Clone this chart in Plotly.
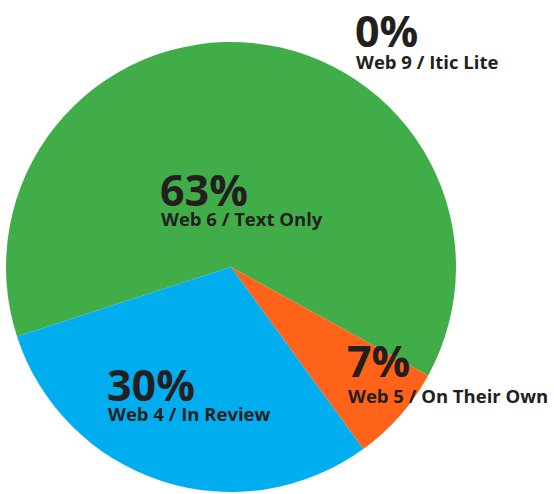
import plotly.graph_objects as go

labels = ["Web 6 / Text Only", "Web 5 / On Their Own", "Web 4 / In Review", "Web 9 / Itic Lite"]
values = [63, 7, 30, 0]
pct_text = ["63%", "7%", "30%", "0%"]
colors = ["#41ad49", "#fe6319", "#00aeef", "#41ad49"]

W, H = 554, 494
# label positions in pixels: (left x, centre y of percent line, centre y of name line)
label_pos = [(158, 189, 218), (345, 360, 395), (105, 384, 413), (353, 30, 61)]

fig = go.Figure(go.Pie(
    labels=labels, values=values, sort=False, direction="clockwise",
    rotation=-108, textinfo="none", hoverinfo="label+percent",
    marker=dict(colors=colors, line=dict(width=0)),
    domain=dict(x=[6 / W, 456 / W], y=[2 / H, 452 / H]),
    showlegend=False,
))

ann = []
for (px, py, ly), p, lab in zip(label_pos, pct_text, labels):
    ann.append(dict(x=px / W, y=1 - py / H, xref="paper", yref="paper", xanchor="left", yanchor="middle",
                    text=p, showarrow=False,
                    font=dict(family="Open Sans", size=43, color="#231f20", weight="bold")))
    ann.append(dict(x=(px + 1) / W, y=1 - ly / H, xref="paper", yref="paper", xanchor="left", yanchor="middle",
                    text=lab, showarrow=False,
                    font=dict(family="Open Sans", size=18.5, color="#231f20", weight="bold")))

fig.update_layout(width=W, height=H, margin=dict(l=0, r=0, t=0, b=0),
                  paper_bgcolor="white", plot_bgcolor="white", annotations=ann)
fig.write_html("out.html")
